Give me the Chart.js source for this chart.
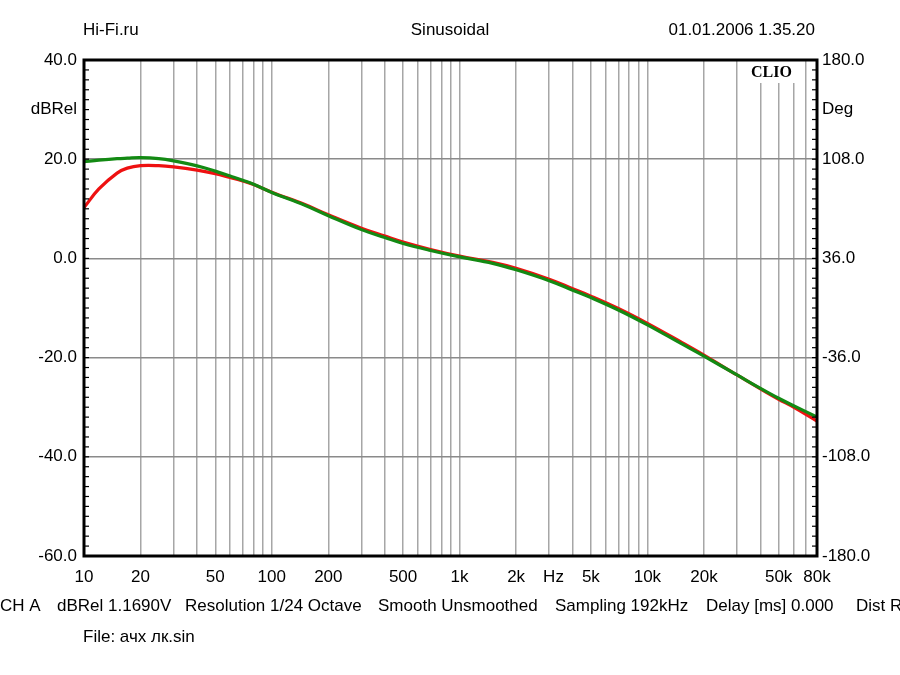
<!DOCTYPE html>
<html>
<head>
<meta charset="utf-8">
<script src="https://cdn.jsdelivr.net/npm/chart.js@4.4.0/dist/chart.umd.min.js"></script>
<style>
  html, body { margin: 0; padding: 0; background: #fff; }
  canvas { display: block; }
</style>
</head>
<body>
<canvas id="clio-chart" width="900" height="675"></canvas>
<script>
const freqHz = [10, 12, 15, 17, 20, 25, 30, 40, 50, 60, 70, 80, 100, 150, 200, 300, 400, 500, 700,
  1000, 1500, 2000, 3000, 4000, 5000, 7000, 10000, 15000, 20000, 30000, 40000, 50000, 60000, 80000];
const greenDb = [19.5, 19.8, 20.1, 20.2, 20.3, 20.1, 19.65, 18.65, 17.6, 16.6, 15.75, 14.95, 13.3, 10.7, 8.6, 5.8, 4.2, 3.0, 1.6,
  0.3, -1.0, -2.3, -4.5, -6.4, -7.9, -10.4, -13.4, -17.1, -19.7, -23.5, -26.2, -28.2, -29.7, -32.0];
const redDb = [10.25, 14.0, 17.2, 18.2, 18.7, 18.7, 18.45, 17.8, 17.1, 16.3, 15.6, 14.9, 13.35, 10.85, 8.8, 6.1, 4.5, 3.3, 1.8,
  0.45, -0.8, -2.0, -4.2, -6.1, -7.6, -10.1, -13.1, -16.8, -19.5, -23.5, -26.3, -28.4, -30.0, -32.8];

// axis labels
const xTickValues = [10, 20, 50, 100, 200, 500, 1000, 2000, 3162.28, 5000, 10000, 20000, 50000, 80000];
const xTickLabels = ["10", "20", "50", "100", "200", "500", "1k", "2k", "Hz", "5k", "10k", "20k", "50k", "80k"];
const dbMin = -60, dbMax = 40, dbMinor = 2, dbMajor = 20;
const degMin = -180, degMax = 180;
const headerLeft = "Hi-Fi.ru";
const headerMid = "Sinusoidal";
const headerRight = "01.01.2006 1.35.20";
const footerParts = ["CH A", "dBRel 1.1690V", "Resolution 1/24 Octave", "Smooth Unsmoothed",
  "Sampling 192kHz", "Delay [ms] 0.000", "Dist R"];
const footerX = [0, 57, 185, 378, 555, 706, 856];
const fileLine = "File: ачх лк.sin";

const FONT = "Liberation Sans, Arial, sans-serif";
const FSIZE = 17;

function xGridValues() {
  const vals = [];
  for (let d = 10; d <= 10000; d *= 10) {
    for (let m = 1; m <= 9; m++) {
      if (d * m <= 80000) vals.push(d * m);
    }
  }
  vals.push(3162.28);
  return vals.sort((a, b) => a - b);
}

function labelForX(v) {
  const i = xTickValues.findIndex((t) => Math.abs(t - v) < 0.01);
  return i >= 0 ? xTickLabels[i] : "";
}

const frame = {
  id: "frame",
  beforeDatasetsDraw(chart) {
    const { ctx, chartArea: a } = chart;
    // white patch behind the CLIO logo
    ctx.save();
    ctx.fillStyle = "#fff";
    ctx.fillRect(744, a.top, 56, 23);
    ctx.restore();
  },
  afterDraw(chart) {
    const { ctx, chartArea: a } = chart;
    ctx.save();
    // inward minor ticks
    ctx.strokeStyle = "#000";
    ctx.lineWidth = 1.2;
    const yl = chart.scales.y;
    yl.ticks.forEach((t, i) => {
      const py = yl.getPixelForTick(i);
      ctx.beginPath();
      ctx.moveTo(a.left, py);
      ctx.lineTo(a.left + 5, py);
      ctx.stroke();
    });
    const yr = chart.scales.y2;
    yr.ticks.forEach((t, i) => {
      const py = yr.getPixelForTick(i);
      ctx.beginPath();
      ctx.moveTo(a.right, py);
      ctx.lineTo(a.right - 5, py);
      ctx.stroke();
    });
    // frame
    ctx.lineWidth = 3;
    ctx.strokeRect(a.left, a.top, a.right - a.left, a.bottom - a.top);

    // logo
    ctx.fillStyle = "#000";
    ctx.font = "bold 16px 'Liberation Serif', 'Times New Roman', serif";
    ctx.textBaseline = "middle";
    ctx.textAlign = "left";
    ctx.fillText("CLIO", 751, 73);

    // header
    ctx.font = FSIZE + "px " + FONT;
    ctx.fillText(headerLeft, 83, 30);
    ctx.textAlign = "center";
    ctx.fillText(headerMid, 450, 30);
    ctx.textAlign = "right";
    ctx.fillText(headerRight, 815, 30);

    // footer
    ctx.textAlign = "left";
    footerParts.forEach((s, i) => ctx.fillText(s, footerX[i], 606));
    ctx.fillText(fileLine, 83, 637);
    ctx.restore();
  },
};

new Chart(document.getElementById("clio-chart"), {
  type: "line",
  data: {
    labels: freqHz,
    datasets: [
      {
        label: "green",
        data: freqHz.map((f, i) => ({ x: f, y: greenDb[i] })),
        borderColor: "#138a13",
        borderWidth: 3.2,
        pointRadius: 0,
        tension: 0.4,
        order: 0,
      },
      {
        label: "red",
        data: freqHz.map((f, i) => ({ x: f, y: redDb[i] })),
        borderColor: "#ee1111",
        borderWidth: 3.2,
        pointRadius: 0,
        tension: 0.4,
        order: 1,
      },
    ],
  },
  options: {
    responsive: false,
    animation: false,
    devicePixelRatio: 1,
    layout: { padding: { top: 60, left: 0, right: 0, bottom: 0 } },
    plugins: { legend: { display: false }, tooltip: { enabled: false } },
    scales: {
      x: {
        type: "logarithmic",
        min: 10,
        max: 80000,
        afterBuildTicks: (s) => { s.ticks = xGridValues().map((v) => ({ value: v })); },
        afterFit: (s) => { s.height = 119; },
        border: { display: false },
        grid: {
          drawTicks: false,
          lineWidth: 1.5,
          color: (c) => (c.tick && Math.abs(c.tick.value - 3162.28) < 0.01 ? "rgba(0,0,0,0)" : "#a6a6a6"),
        },
        ticks: {
          autoSkip: false,
          maxRotation: 0,
          padding: 11,
          color: "#000",
          font: { family: FONT, size: FSIZE },
          callback: (v) => labelForX(v),
        },
      },
      y: {
        position: "left",
        min: dbMin,
        max: dbMax,
        afterBuildTicks: (s) => {
          const t = [];
          for (let v = dbMin; v <= dbMax; v += dbMinor) t.push({ value: v });
          s.ticks = t;
        },
        afterFit: (s) => { s.width = 84; },
        border: { display: false },
        grid: {
          drawTicks: false,
          lineWidth: 1.5,
          color: (c) => (c.tick && c.tick.value % dbMajor === 0 ? "#8a8a8a" : "rgba(0,0,0,0)"),
        },
        ticks: {
          autoSkip: false,
          padding: 7,
          color: "#000",
          font: { family: FONT, size: FSIZE },
          callback: (v) => (v % dbMajor === 0 ? v.toFixed(1) : v === 30 ? "dBRel" : ""),
        },
      },
      y2: {
        position: "right",
        min: degMin,
        max: degMax,
        afterBuildTicks: (s) => {
          const t = [];
          for (let i = 0; i <= 50; i++) t.push({ value: degMin + i * 7.2 });
          s.ticks = t;
        },
        afterFit: (s) => { s.width = 83; },
        border: { display: false },
        grid: { display: false, drawTicks: false },
        ticks: {
          autoSkip: false,
          padding: 5,
          color: "#000",
          font: { family: FONT, size: FSIZE },
          callback: (v, i) => (i % 10 === 0 ? (Math.round(v * 10) / 10).toFixed(1) : i === 45 ? "Deg" : ""),
        },
      },
    },
  },
  plugins: [frame],
});
</script>
</body>
</html>
